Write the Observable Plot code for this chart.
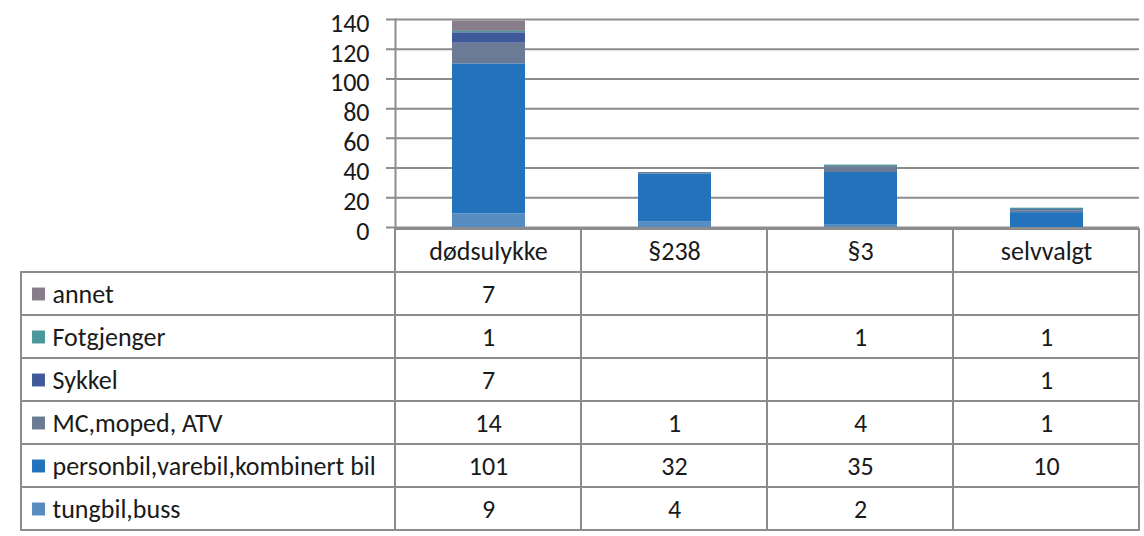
<!DOCTYPE html>
<html>
<head>
<meta charset="utf-8">
<script src="https://cdn.jsdelivr.net/npm/d3@7"></script>
<script src="https://cdn.jsdelivr.net/npm/@observablehq/plot@0.6"></script>
<style>
  html, body { margin: 0; padding: 0; background: #fff; }
  #wrap { position: relative; width: 1144px; height: 536px; overflow: hidden; }
  #wrap svg { position: absolute; left: 0; overflow: visible; }
</style>
</head>
<body>
<div id="wrap"></div>
<script>
// ---- data ----
const categories = ["dødsulykke", "§238", "§3", "selvvalgt"];
const series = ["annet", "Fotgjenger", "Sykkel", "MC,moped, ATV", "personbil,varebil,kombinert bil", "tungbil,buss"];
const annet      = [7, null, null, null];
const fotgjenger = [1, null, 1, 1];
const sykkel     = [7, null, null, 1];
const mc         = [14, 1, 4, 1];
const personbil  = [101, 32, 35, 10];
const tungbil    = [9, 4, 2, null];
const seriesValues = [annet, fotgjenger, sykkel, mc, personbil, tungbil];
const colors = ["#877d8b", "#4b989c", "#3f5a9b", "#6c7b95", "#2372bc", "#578cc0"];
const yTicks = [0, 20, 40, 60, 80, 100, 120, 140];
const headerKey = "kategori";

const rows = series.flatMap((s, i) => categories.map((c, j) => ({series: s, category: c, value: seriesValues[i][j]})));
const present = rows.filter(d => d.value != null);
const stackOrder = series.slice().reverse();

const grid = "#8c8c8c";
const fs = 26;
const font = {fontFamily: "Carlito, Lato, sans-serif", fontSize: fs + "px", color: "#1a1a1a", background: "transparent"};

const chartPlot = Plot.plot({
  width: 1144, height: 229,
  marginTop: 19, marginBottom: 2, marginLeft: 395, marginRight: 5,
  style: font,
  x: {domain: categories, paddingInner: 0.608, paddingOuter: 0.304, axis: null},
  y: {domain: [0, 140], axis: null},
  color: {domain: series, range: colors},
  marks: [
    Plot.ruleY(yTicks, {stroke: grid, strokeWidth: 2, insetLeft: -9}),
    Plot.barY(present, {x: "category", y: "value", fill: "series", order: stackOrder}),
    Plot.frame({anchor: "left", stroke: grid, strokeWidth: 2}),
    Plot.axisY(yTicks, {tickSize: 0, tickPadding: 26, dy: 4, fontSize: fs, label: null})
  ]
});
chartPlot.style.top = "0px";

const tablePlot = Plot.plot({
  width: 1144, height: 310,
  marginTop: 1, marginBottom: 5, marginLeft: 395, marginRight: 5,
  style: font,
  x: {domain: categories, padding: 0, axis: null},
  y: {domain: [headerKey, ...series], padding: 0, axis: null},
  color: {domain: series, range: colors},
  marks: [
    Plot.cell(categories, {x: d => d, y: () => headerKey, fill: "white", stroke: grid, strokeWidth: 2}),
    Plot.text(categories, {x: d => d, y: () => headerKey, text: d => d, dy: 1, fontSize: fs}),
    Plot.cell(series, {y: d => d, fill: "white", stroke: grid, strokeWidth: 2, insetLeft: -374, insetRight: 744}),
    Plot.cell(rows, {x: "category", y: "series", fill: "white", stroke: grid, strokeWidth: 2}),
    Plot.text(present, {x: "category", y: "series", text: d => String(d.value), dy: 1, fontSize: fs}),
    Plot.dot(series, {y: d => d, frameAnchor: "left", dx: -357, symbol: "square", r: 7.3, fill: d => d}),
    Plot.text(series, {y: d => d, text: d => d, frameAnchor: "left", dx: -343, textAnchor: "start", dy: 1, fontSize: fs})
  ]
});
tablePlot.style.top = "226px";

const wrap = document.getElementById("wrap");
wrap.appendChild(chartPlot);
wrap.appendChild(tablePlot);
</script>
</body>
</html>
